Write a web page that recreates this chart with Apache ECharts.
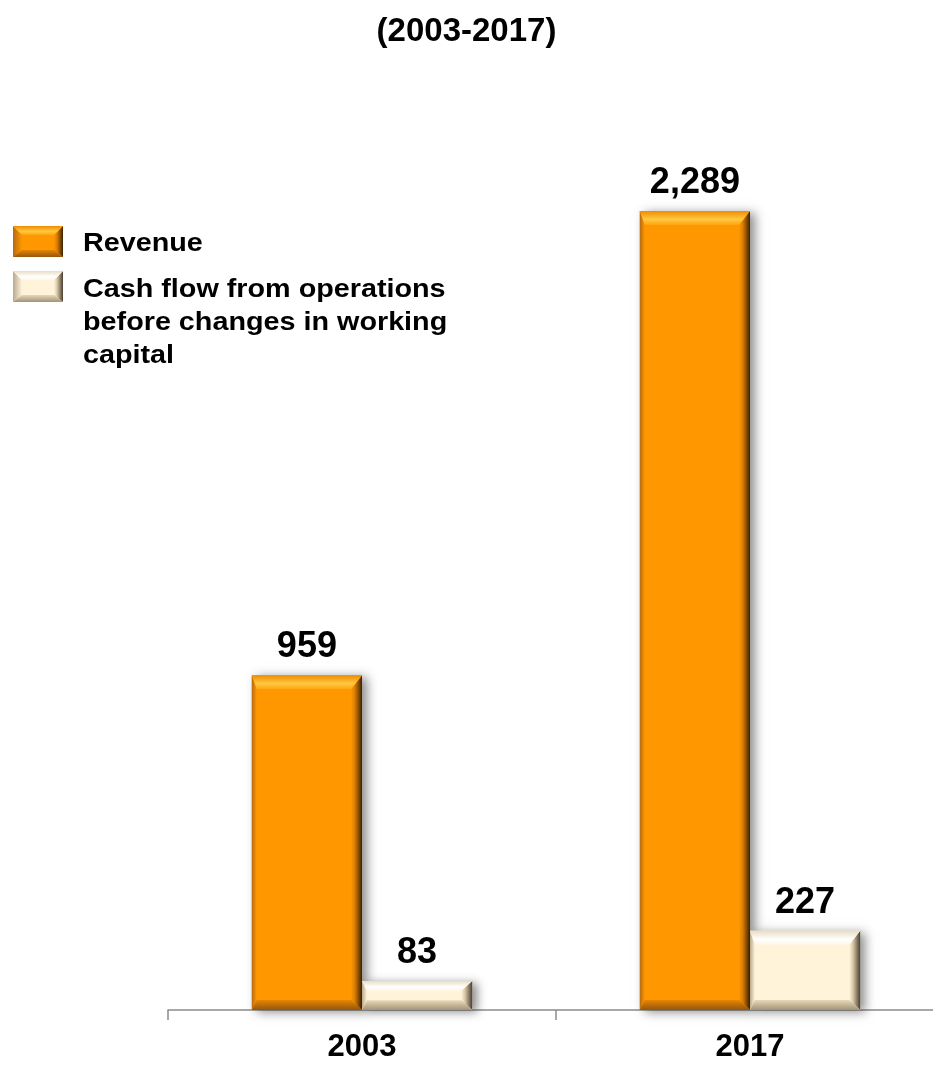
<!DOCTYPE html>
<html>
<head>
<meta charset="utf-8">
<script src="https://cdn.jsdelivr.net/npm/echarts@6/dist/echarts.min.js"></script>
<style>
  html, body { margin: 0; padding: 0; background: #fff; }
  #chart { width: 933px; height: 1065px; }
</style>
</head>
<body>
<div id="chart"></div>
<script>
// Values (millions)
const categories = ['2003', '2017'];
const revenue = [959, 2289];
const cashFlow = [83, 227];
const seriesNames = ['Revenue', 'Cash flow from operations\nbefore changes in working\ncapital'];
const titleText = '(2003-2017)';

const FONT = 'Arial, "Liberation Sans", sans-serif';
const LG = echarts.graphic.LinearGradient;

// Bevelled "button" look for each bar
const palettes = [
  {
    base: '#FF9700',
    left: ['#B56A12', '#FF9700'],
    right: [[0, '#FF9700'], [0.35, '#D97C00'], [1, '#3A2200']],
    top: [[0, '#F08C00'], [0.6, '#FFC840'], [1, '#FFA410']],
    bottom: [[0, '#E58600'], [1, '#94560E']]
  },
  {
    base: '#FFF3D9',
    left: ['#B9A98D', '#FFF3D9'],
    right: [[0, '#FFF3D9'], [0.35, '#D6C6A6'], [1, '#4A3E30']],
    top: [[0, '#EADCC0'], [0.6, '#FFFFFF'], [1, '#FFF7E6']],
    bottom: [[0, '#E8D8B8'], [1, '#A39376']]
  }
];

function stops(arr) {
  return arr.map(s => ({ offset: s[0], color: s[1] }));
}

function bevelShapes(x, y, w, h, pal, bv, shadow) {
  const t = Math.min(bv.t, h / 3);
  const b = Math.min(bv.b, h / 3);
  const l = bv.l, r = bv.r;
  const baseStyle = { fill: pal.base };
  if (shadow) {
    baseStyle.shadowBlur = 10;
    baseStyle.shadowOffsetX = 5;
    baseStyle.shadowOffsetY = 2;
    baseStyle.shadowColor = 'rgba(0,0,0,0.45)';
  }
  return [
    { type: 'rect', shape: { x: x, y: y, width: w, height: h }, style: baseStyle },
    { type: 'polygon', shape: { points: [[x, y], [x + l, y + t], [x + l, y + h - b], [x, y + h]] },
      style: { fill: new LG(0, 0, 1, 0, [{ offset: 0, color: pal.left[0] }, { offset: 1, color: pal.left[1] }]) } },
    { type: 'polygon', shape: { points: [[x + w - r, y + t], [x + w, y], [x + w, y + h], [x + w - r, y + h - b]] },
      style: { fill: new LG(0, 0, 1, 0, stops(pal.right)) } },
    { type: 'polygon', shape: { points: [[x, y], [x + w, y], [x + w - r, y + t], [x + l, y + t]] },
      style: { fill: new LG(0, 0, 0, 1, stops(pal.top)) } },
    { type: 'polygon', shape: { points: [[x + l, y + h - b], [x + w - r, y + h - b], [x + w, y + h], [x, y + h]] },
      style: { fill: new LG(0, 0, 0, 1, stops(pal.bottom)) } }
  ];
}

const BAR_FRACTION = 0.284; // share of a category band taken by one bar

function makeRenderItem(seriesIdx) {
  return function (params, api) {
    const ci = api.value(0);
    const v = api.value(1);
    const base = api.coord([ci, 0]);
    const top = api.coord([ci, v]);
    const bw = api.size([1, 0])[0] * BAR_FRACTION;
    const x = seriesIdx === 0 ? base[0] - bw : base[0];
    const y = top[1];
    const h = base[1] - top[1];
    const children = bevelShapes(x, y, bw, h, palettes[seriesIdx], { t: 14, b: 10, l: 5, r: 11 }, true);
    children.push({
      type: 'text',
      x: x + bw / 2,
      y: y - 10,
      style: {
        text: v.toLocaleString('en-US'),
        font: 'bold 36px ' + FONT,
        fill: '#000',
        align: 'center',
        verticalAlign: 'bottom'
      }
    });
    return { type: 'group', children: children };
  };
}

function legendGraphics() {
  const items = [];
  const iconY = [226, 271];
  iconY.forEach((iy, i) => {
    bevelShapes(13, iy, 50, 31, palettes[i], { t: 9, b: 7, l: 9, r: 9 }, false).forEach(s => items.push(s));
  });
  items.push({
    type: 'text', x: 83, y: 244, scaleX: 1.15,
    style: { text: seriesNames[0], font: 'bold 25px ' + FONT, fill: '#000', verticalAlign: 'middle' }
  });
  items.push({
    type: 'text', x: 83, y: 274, scaleX: 1.15,
    style: { text: seriesNames[1], font: 'bold 25px ' + FONT, fill: '#000', lineHeight: 33, verticalAlign: 'top' }
  });
  return items;
}

const chart = echarts.init(document.getElementById('chart'), null, { renderer: 'canvas' });

chart.setOption({
  backgroundColor: '#ffffff',
  animation: false,
  title: {
    text: titleText,
    left: 'center',
    top: 10,
    textStyle: { fontFamily: FONT, fontWeight: 'bold', fontSize: 33, color: '#000' }
  },
  grid: {
    left: 168,
    width: 776,
    top: 137.4,
    bottom: 55,
    containLabel: false,
    outerBoundsMode: 'none'
  },
  xAxis: {
    type: 'category',
    data: categories,
    axisLine: { lineStyle: { color: '#8c8c8c', width: 1.5 } },
    axisTick: { show: true, length: 10, lineStyle: { color: '#8c8c8c', width: 1.5 } },
    axisLabel: { margin: 22, color: '#000', fontFamily: FONT, fontWeight: 'bold', fontSize: 31 }
  },
  yAxis: {
    type: 'value',
    min: 0,
    max: 2500,
    show: false,
    splitLine: { show: false }
  },
  graphic: legendGraphics(),
  series: [
    {
      name: seriesNames[0],
      type: 'custom',
      renderItem: makeRenderItem(0),
      encode: { x: 0, y: 1 },
      data: revenue.map((v, i) => [i, v])
    },
    {
      name: seriesNames[1],
      type: 'custom',
      renderItem: makeRenderItem(1),
      encode: { x: 0, y: 1 },
      data: cashFlow.map((v, i) => [i, v])
    }
  ]
});
</script>
</body>
</html>
